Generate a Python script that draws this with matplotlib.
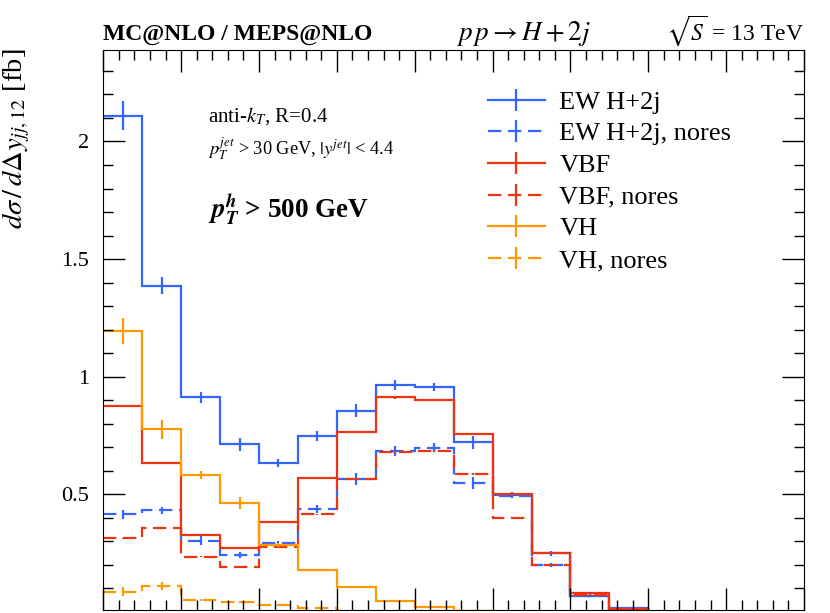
import numpy as np
import matplotlib
matplotlib.use("Agg")
import matplotlib.pyplot as plt
from matplotlib.lines import Line2D

plt.rcParams['font.family'] = ['Liberation Serif', 'DejaVu Serif']
plt.rcParams['mathtext.fontset'] = 'stix'

# bin edges of Delta y_jj (0 .. 9, width 0.5)
edges = np.arange(0, 9.01, 0.5)

# d sigma / d Delta y [fb]
ew = [2.11, 1.387, 0.912, 0.713, 0.632, 0.748, 0.855, 0.965, 0.956, 0.721,
      0.497, 0.249, 0.069, 0.015, 0, 0, 0, 0]
ew_err = [0.062, 0.035, 0.022, 0.028, 0.016, 0.02, 0.028, 0.023, 0.018, 0.027,
          0.014, 0.01, 0.005, 0.003, 0, 0, 0, 0]
ew_nores = [0.415, 0.433, 0.303, 0.241, 0.292, 0.437, 0.565, 0.685, 0.698, 0.547,
            0.494, 0.2, 0.069, 0.013, 0, 0, 0, 0]
ew_nores_err = [0.018, 0.015, 0.019, 0.014, 0.01, 0.018, 0.025, 0.021, 0.02, 0.025,
                0.01, 0.008, 0.004, 0.002, 0, 0, 0, 0]
vbf = [0.875, 0.634, 0.327, 0.273, 0.381, 0.571, 0.766, 0.912, 0.901, 0.755,
       0.501, 0.249, 0.079, 0.012, 0, 0, 0, 0]
vbf_err = [0.004, 0.005, 0.004, 0.004, 0.004, 0.004, 0.005, 0.005, 0.005, 0.005,
           0.004, 0.003, 0.002, 0.001, 0, 0, 0, 0]
vbf_nores = [0.313, 0.355, 0.235, 0.192, 0.277, 0.415, 0.565, 0.679, 0.684, 0.585,
             0.4, 0.2, 0.072, 0.013, 0, 0, 0, 0]
vbf_nores_err = [0.003, 0.004, 0.003, 0.003, 0.003, 0.003, 0.004, 0.004, 0.004, 0.004,
                 0.003, 0.002, 0.002, 0.001, 0, 0, 0, 0]
vh = [1.194, 0.776, 0.582, 0.464, 0.284, 0.178, 0.107, 0.048, 0.022, 0.005,
      0, 0, 0, 0, 0, 0, 0, 0]
vh_err = [0.057, 0.039, 0.018, 0.025, 0.01, 0.006, 0.004, 0.003, 0.002, 0.001,
          0, 0, 0, 0, 0, 0, 0, 0]
vh_nores = [0.086, 0.11, 0.05, 0.043, 0.029, 0.015, 0.005, 0.004, 0.003, 0.002,
            0, 0, 0, 0, 0, 0, 0, 0]
vh_nores_err = [0.019, 0.016, 0.005, 0.004, 0.003, 0.002, 0.001, 0.001, 0.001, 0.001,
                0, 0, 0, 0, 0, 0, 0, 0]

BLUE, RED, ORANGE = '#3366FF', '#EE3311', '#FF9900'
DASH = (0, (6, 3))

series = [
    ("EW H+2j", ew, ew_err, BLUE, '-'),
    ("EW H+2j, nores", ew_nores, ew_nores_err, BLUE, DASH),
    ("VBF", vbf, vbf_err, RED, '-'),
    ("VBF, nores", vbf_nores, vbf_nores_err, RED, DASH),
    ("VH", vh, vh_err, ORANGE, '-'),
    ("VH, nores", vh_nores, vh_nores_err, ORANGE, DASH),
]

fig = plt.figure(figsize=(8.3, 6.13), dpi=100)
ax = fig.add_axes([103.3 / 830, 3 / 613, 700.7 / 830, 560 / 613])

centers = 0.5 * (edges[:-1] + edges[1:])
handles = []
for label, vals, errs, col, ls in series:
    ax.stairs(vals, edges, baseline=None, color=col, lw=1.6, linestyle=ls)
    ax.errorbar(centers, vals, yerr=errs, fmt='none', ecolor=col, elinewidth=1.6)
    handles.append(Line2D([], [], color=col, lw=1.6, linestyle=ls,
                          marker='|', markersize=16, markeredgewidth=1.6))

ax.set_xlim(0, 9)
ax.set_ylim(0.008, 2.389)
ax.set_xticks(np.arange(0, 9.01, 1))
ax.set_xticks(np.arange(0, 9.01, 0.2), minor=True)
ax.set_yticks([0.5, 1, 1.5, 2])
ax.set_yticklabels(['0.5', '1', '1.5', '2'])
ax.set_yticks(np.arange(0.1, 2.39, 0.1), minor=True)
ax.tick_params(which='both', direction='in', top=True, right=True,
               labelbottom=False, labelsize=16, pad=10)
ax.tick_params(which='major', length=16, width=1.0)
ax.tick_params(which='minor', length=7, width=1.0)

# y label, top aligned with the axes
fig.text(16 / 830, 1 - 48 / 613, r'$d\sigma\,/\,d\Delta y_{jj,12}$ [fb]', fontsize=20.5,
         rotation=90, ha='center', va='top')

fig.text(103 / 830, 1 - 40 / 613, 'MC@NLO / MEPS@NLO', fontsize=17, fontweight='bold',
         ha='left', va='baseline')
fig.text(523 / 830, 1 - 40 / 613, r'$p\,p \rightarrow H+2j$', fontsize=19.5,
         ha='center', va='baseline')
fig.text(804 / 830, 1 - 40 / 613, r'$\sqrt{S}$ = 13 TeV', fontsize=17,
         ha='right', va='baseline')

ax.text(0.149, 0.882, r'anti-$k_T$, R=0.4', transform=ax.transAxes, fontsize=15,
        ha='left', va='center')
ax.text(0.149, 0.822, r'$p_T^{jet}$ > 30 GeV, $|y^{jet}|$ < 4.4', transform=ax.transAxes,
        fontsize=13.2, ha='left', va='center')
ax.text(0.149, 0.715, r'$\mathbfit{p}_{\mathbfit{T}}^{\mathbfit{h}}$ > 500 GeV',
        transform=ax.transAxes, fontsize=19.5, fontweight='bold', ha='left', va='center')

ax.legend(handles, [s[0] for s in series], loc='upper left',
          bbox_to_anchor=(0.549, 0.928), frameon=False, fontsize=19,
          handlelength=2.15, handletextpad=0.55, labelspacing=0.31,
          borderpad=0, borderaxespad=0, numpoints=1)

fig.savefig('out.png', dpi=100)
